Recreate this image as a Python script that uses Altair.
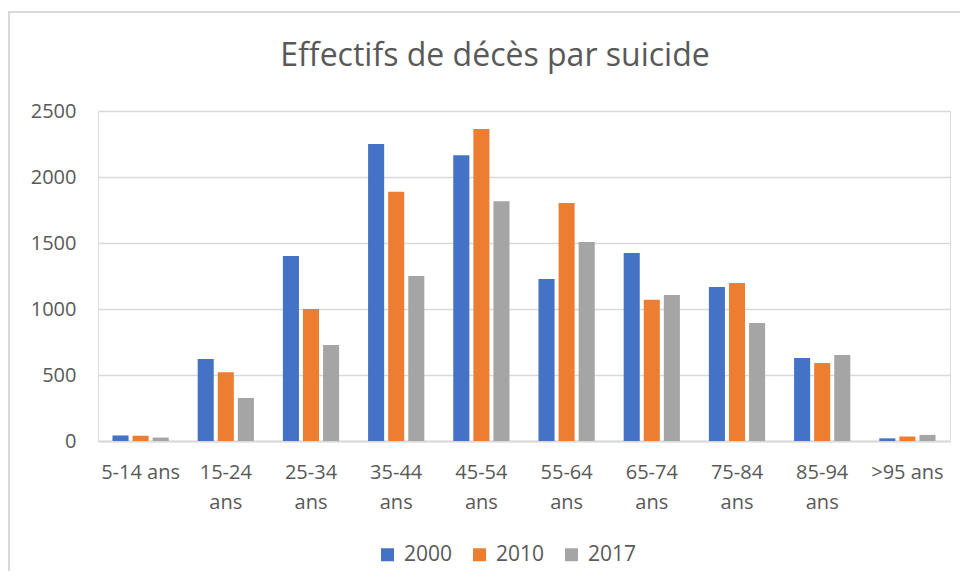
import altair as alt
import pandas as pd

categories = ["5-14 ans", "15-24 ans", "25-34 ans", "35-44 ans", "45-54 ans",
              "55-64 ans", "65-74 ans", "75-84 ans", "85-94 ans", ">95 ans"]
years = ["2000", "2010", "2017"]
v2000 = [42, 621, 1401, 2250, 2165, 1227, 1424, 1167, 628, 20]
v2010 = [40, 520, 1000, 1889, 2364, 1803, 1070, 1197, 591, 34]
v2017 = [26, 326, 727, 1250, 1816, 1508, 1106, 894, 652, 46]
colors = ["#4472C4", "#ED7D31", "#A5A5A5"]

rows = []
for y, vals in zip(years, [v2000, v2010, v2017]):
    for c, v in zip(categories, vals):
        rows.append({"cat": c, "year": y, "val": v})
df = pd.DataFrame(rows)

FONT = "Open Sans"
GREY = "#595959"

bars = alt.Chart(df).mark_bar().encode(
    x=alt.X("cat:N", sort=categories, title=None,
            scale=alt.Scale(paddingInner=0.34, paddingOuter=0.17),
            axis=alt.Axis(labelAngle=0, labelFontSize=20, labelColor=GREY, labelFont=FONT,
                          ticks=False, domainColor="#d9d9d9", domainWidth=2,
                          labelPadding=21, labelLineHeight=30,
                          labelExpr="(datum.label == '5-14 ans' || datum.label == '>95 ans') ? datum.label : split(datum.label, ' ')")),
    xOffset=alt.XOffset("year:N", sort=years, scale=alt.Scale(paddingInner=0.2)),
    y=alt.Y("val:Q", title=None, scale=alt.Scale(domain=[0, 2500]),
            axis=alt.Axis(values=[0, 500, 1000, 1500, 2000, 2500], format="d", labelFontSize=20,
                          labelColor=GREY, labelFont=FONT, ticks=False, domain=False,
                          gridColor="#d9d9d9", gridWidth=1.5, labelPadding=22)),
    color=alt.Color("year:N", sort=years, scale=alt.Scale(domain=years, range=colors),
                    legend=alt.Legend(title=None, orient="none", direction="horizontal",
                                      legendX=279, legendY=433, symbolType="square",
                                      symbolSize=169, symbolStrokeWidth=0,
                                      labelFontSize=21, labelColor=GREY, labelFont=FONT,
                                      columnPadding=16, labelOffset=6)),
)

border = alt.Chart(pd.DataFrame({"k": [0]})).mark_rect(
    fill=None, stroke="#d9d9d9", strokeWidth=2, clip=False
).encode(x=alt.value(-89), x2=alt.value(880), y=alt.value(-99), y2=alt.value(490))

chart = alt.layer(bars, border).properties(
    width=852, height=330,
    title=alt.TitleParams("Effectifs de décès par suicide", fontSize=32, font=FONT,
                          fontWeight="normal", color=GREY, anchor="middle", dx=-29,
                          baseline="alphabetic", offset=-87),
    autosize=alt.AutoSizeParams(type="none"),
    padding={"left": 90, "top": 103, "right": 10, "bottom": 130},
).configure_view(stroke=None).configure(background="white")

chart.save("out.html", embed_options={"renderer": "svg", "actions": False})
